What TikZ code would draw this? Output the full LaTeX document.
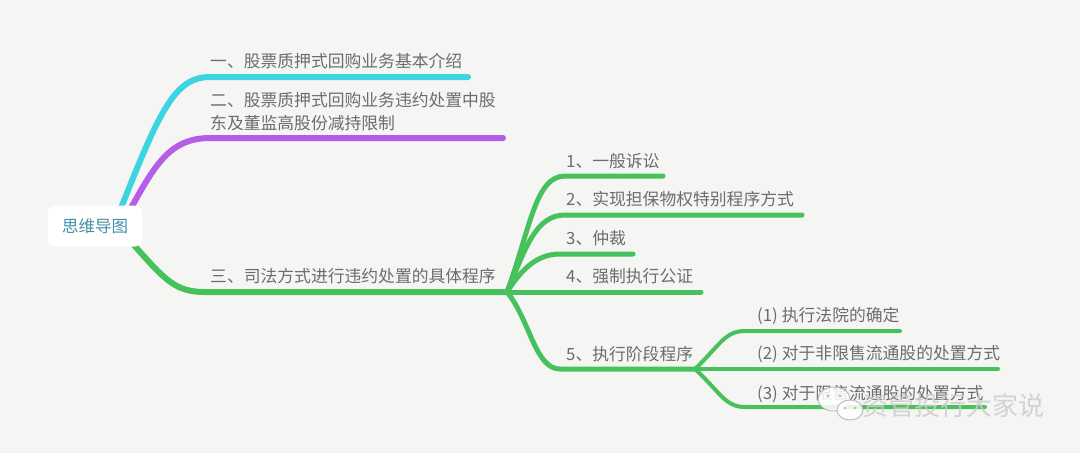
\documentclass[tikz,border=0pt]{standalone}
\usepackage{fontspec}
\newfontfamily\cjk{Noto Sans CJK SC}
\definecolor{bgc}{HTML}{F5F6F4}
\definecolor{cyanb}{HTML}{3DD4E2}
\definecolor{purpb}{HTML}{B55DE9}
\definecolor{greenb}{HTML}{47C15B}
\definecolor{txt}{HTML}{6C6C6C}
\definecolor{roottxt}{HTML}{4390A6}
\tikzset{
  lbl/.style={font=\cjk\fontsize{16.8}{20}\selectfont, text=txt, anchor=base west, inner sep=0pt},
  br/.style={line width=6pt, line cap=round},
  subbr/.style={line width=5pt, line cap=round, greenb},
  subsub/.style={line width=4pt, line cap=round, greenb},
  wmtxt/.style={font=\cjk\fontsize{26}{30}\selectfont, inner sep=0pt, anchor=west},
}
\begin{document}
\begin{tikzpicture}[x=1pt,y=-1pt]
\fill[bgc] (0,0) rectangle (1080,453);
\useasboundingbox (0,0) rectangle (1080,453);

% junction coordinates
\coordinate (rc) at (121,208);
\coordinate (rp) at (131,208);
\coordinate (rg) at (133,244);
\coordinate (J) at (507,292);
\coordinate (K) at (695,369);
\coordinate (e1) at (468,77);
\coordinate (e2) at (503,138);
\coordinate (es1) at (663,176);
\coordinate (es2) at (802,215);
\coordinate (es3) at (633,254);
\coordinate (es4) at (701,292);
\coordinate (eu1) at (900,331);
\coordinate (eu2) at (998,369);
\coordinate (eu3) at (985,407);

% main branches
\draw[br, cyanb] (rc) .. controls (160,110) and (175,77) .. (210,77) -- (e1);
\draw[br, purpb] (rp) .. controls (155,165) and (170,138) .. (210,138) -- (e2);
\draw[br, greenb] (rg) .. controls (165,280) and (175,292) .. (205,292) -- (J);

% sub branches
\draw[subbr] (J) .. controls (530,230) and (535,176) .. (565,176) -- (es1);
\draw[subbr] (J) .. controls (525,250) and (535,215) .. (565,215) -- (es2);
\draw[subbr] (J) .. controls (520,272) and (535,254) .. (560,254) -- (es3);
\draw[subbr] (J) -- (es4);
\draw[subbr] (J) .. controls (530,320) and (535,369) .. (560,369) -- (K);

% sub-sub branches
\draw[subsub] (K) .. controls (720,345) and (725,331) .. (745,331) -- (eu1);
\draw[subsub] (K) -- (eu2);
\draw[subsub] (K) .. controls (720,392) and (725,407) .. (745,407) -- (eu3);

% root
\node[fill=white, rounded corners=8pt, minimum width=95pt, minimum height=41pt, inner sep=0pt,
      font=\cjk\fontsize{16.5}{20}\selectfont, text=roottxt] (root) at (95,226) {思维导图};

% labels
\node[lbl] (t1) at (210,67) {一、股票质押式回购业务基本介绍};
\node[lbl] (t2a) at (210,106) {二、股票质押式回购业务违约处置中股};
\node[lbl] (t2b) at (210,129) {东及董监高股份减持限制};
\node[lbl] (t3) at (210,282) {三、司法方式进行违约处置的具体程序};
\node[lbl] (s1) at (566,167) {1、一般诉讼};
\node[lbl] (s2) at (566,205) {2、实现担保物权特别程序方式};
\node[lbl] (s3) at (566,244) {3、仲裁};
\node[lbl] (s4) at (566,282) {4、强制执行公证};
\node[lbl] (s5) at (566,360) {5、执行阶段程序};
\node[lbl] (u1) at (757,321) {(1)\hspace{4pt}执行法院的确定};
\node[lbl] (u2) at (757,359) {(2)\hspace{4pt}对于非限售流通股的处置方式};
\node[lbl] (u3) at (757,399) {(3)\hspace{4pt}对于限售流通股的处置方式};

% watermark
\begin{scope}[opacity=0.85]
  \draw[gray!60, fill=white, line width=1pt] (834,399) ellipse (16pt and 12pt);
  \draw[gray!60, fill=white, line width=1pt] (850,410) ellipse (13pt and 10pt);
  \fill[gray!60] (828,396) circle (1.6pt) (840,396) circle (1.6pt);
  \fill[gray!60] (845,408) circle (1.3pt) (855,408) circle (1.3pt);
  \node[wmtxt, text=gray!40] (wm) at (862,406) {资管投行大家说};
\end{scope}
\end{tikzpicture}
\end{document}
